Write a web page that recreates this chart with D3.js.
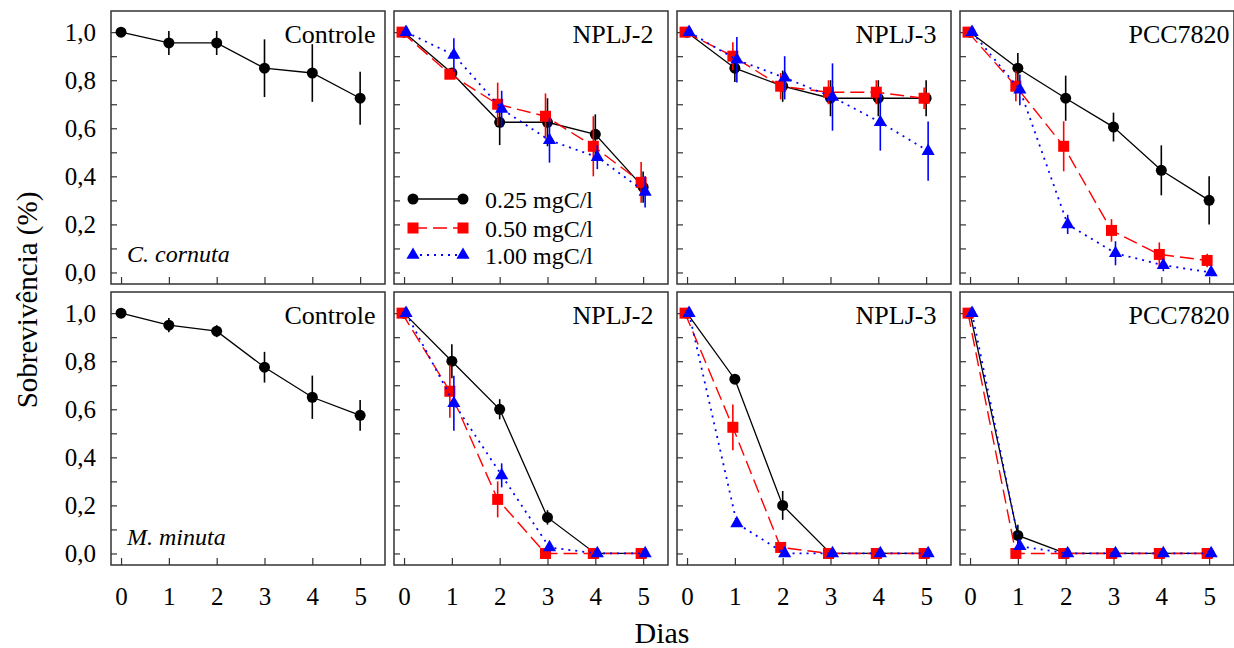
<!DOCTYPE html>
<html>
<head>
<meta charset="utf-8">
<script src="https://cdn.jsdelivr.net/npm/d3@7"></script>
<style>
  body { margin: 0; background: #fff; }
  svg { font-family: "Liberation Serif", "Times New Roman", serif; }
</style>
</head>
<body>
<svg width="1234" height="648"></svg>
<script>
// days and labels
var days = [0, 1, 2, 3, 4, 5];
var concentrations = ["0.25 mgC/l", "0.50 mgC/l", "1.00 mgC/l"];
var strains = ["Controle", "NPLJ-2", "NPLJ-3", "PCC7820"];
var speciesNames = ["C. cornuta", "M. minuta"];
var yTickValues = [0, 0.1, 0.2, 0.3, 0.4, 0.5, 0.6, 0.7, 0.8, 0.9, 1.0];

// C. cornuta
var cornutaControle = [1.0, 0.955, 0.955, 0.85, 0.83, 0.725];
var cornutaControleErr = [0, 0.05, 0.05, 0.12, 0.12, 0.11];
var cornutaNPLJ2_025 = [1.0, 0.83, 0.625, 0.625, 0.575, 0.355];
var cornutaNPLJ2_025Err = [0, 0.02, 0.095, 0.1, 0.083, 0.065];
var cornutaNPLJ2_050 = [1.0, 0.825, 0.70, 0.65, 0.525, 0.375];
var cornutaNPLJ2_050Err = [0, 0.02, 0.09, 0.095, 0.125, 0.085];
var cornutaNPLJ2_100 = [1.0, 0.905, 0.68, 0.55, 0.48, 0.335];
var cornutaNPLJ2_100Err = [0, 0.07, 0.076, 0.093, 0.05, 0.065];
var cornutaNPLJ3_025 = [1.0, 0.85, 0.775, 0.725, 0.725, 0.725];
var cornutaNPLJ3_025Err = [0, 0.057, 0.065, 0.075, 0.075, 0.075];
var cornutaNPLJ3_050 = [1.0, 0.90, 0.775, 0.75, 0.75, 0.725];
var cornutaNPLJ3_050Err = [0, 0.058, 0.055, 0.05, 0.05, 0.045];
var cornutaNPLJ3_100 = [1.0, 0.885, 0.81, 0.73, 0.625, 0.505];
var cornutaNPLJ3_100Err = [0, 0.095, 0.09, 0.14, 0.118, 0.123];
var cornutaPCC_025 = [1.0, 0.85, 0.725, 0.605, 0.425, 0.30];
var cornutaPCC_025Err = [0, 0.063, 0.094, 0.06, 0.104, 0.10];
var cornutaPCC_050 = [1.0, 0.775, 0.525, 0.175, 0.075, 0.05];
var cornutaPCC_050Err = [0, 0.063, 0.104, 0.047, 0.05, 0.028];
var cornutaPCC_100 = [1.0, 0.76, 0.20, 0.08, 0.03, 0.0];
var cornutaPCC_100Err = [0, 0.064, 0.04, 0.05, 0.025, 0];

// M. minuta
var minutaControle = [1.0, 0.95, 0.925, 0.775, 0.65, 0.575];
var minutaControleErr = [0, 0.03, 0.025, 0.064, 0.09, 0.064];
var minutaNPLJ2_025 = [1.0, 0.80, 0.60, 0.15, 0, 0];
var minutaNPLJ2_025Err = [0, 0.071, 0.042, 0.03, 0, 0];
var minutaNPLJ2_050 = [1.0, 0.675, 0.225, 0, 0, 0];
var minutaNPLJ2_050Err = [0, 0.11, 0.075, 0, 0, 0];
var minutaNPLJ2_100 = [1.0, 0.625, 0.325, 0.025, 0, 0];
var minutaNPLJ2_100Err = [0, 0.114, 0.05, 0.015, 0, 0];
var minutaNPLJ3_025 = [1.0, 0.725, 0.20, 0, 0, 0];
var minutaNPLJ3_025Err = [0, 0.01, 0.06, 0, 0, 0];
var minutaNPLJ3_050 = [1.0, 0.525, 0.025, 0, 0, 0];
var minutaNPLJ3_050Err = [0, 0.095, 0.01, 0, 0, 0];
var minutaNPLJ3_100 = [1.0, 0.125, 0, 0, 0, 0];
var minutaNPLJ3_100Err = [0, 0.015, 0, 0, 0, 0];
var minutaPCC_025 = [1.0, 0.075, 0, 0, 0, 0];
var minutaPCC_025Err = [0, 0.045, 0, 0, 0, 0];
var minutaPCC_050 = [1.0, 0, 0, 0, 0, 0];
var minutaPCC_050Err = [0, 0, 0, 0, 0, 0];
var minutaPCC_100 = [1.0, 0.03, 0, 0, 0, 0];
var minutaPCC_100Err = [0, 0.01, 0, 0, 0, 0];

var panels = [
  [[cornutaControle, cornutaControleErr]],
  [[cornutaNPLJ2_025, cornutaNPLJ2_025Err], [cornutaNPLJ2_050, cornutaNPLJ2_050Err], [cornutaNPLJ2_100, cornutaNPLJ2_100Err]],
  [[cornutaNPLJ3_025, cornutaNPLJ3_025Err], [cornutaNPLJ3_050, cornutaNPLJ3_050Err], [cornutaNPLJ3_100, cornutaNPLJ3_100Err]],
  [[cornutaPCC_025, cornutaPCC_025Err], [cornutaPCC_050, cornutaPCC_050Err], [cornutaPCC_100, cornutaPCC_100Err]],
  [[minutaControle, minutaControleErr]],
  [[minutaNPLJ2_025, minutaNPLJ2_025Err], [minutaNPLJ2_050, minutaNPLJ2_050Err], [minutaNPLJ2_100, minutaNPLJ2_100Err]],
  [[minutaNPLJ3_025, minutaNPLJ3_025Err], [minutaNPLJ3_050, minutaNPLJ3_050Err], [minutaNPLJ3_100, minutaNPLJ3_100Err]],
  [[minutaPCC_025, minutaPCC_025Err], [minutaPCC_050, minutaPCC_050Err], [minutaPCC_100, minutaPCC_100Err]]
];

var colors = ["#000000", "#ff0000", "#0000ff"],
    dashes = [null, "14,6", "2,5"],
    widths = [1.3, 1.4, 1.8],
    dodge = [0, -2, 2];

var svg = d3.select("svg"),
    pw = 274, ph = 273,
    left0 = 111, colStep = 283,
    rowTops = [11, 292];

var x = d3.scaleLinear().domain([-0.21, 5.52]).range([0, pw]);
var y = d3.scaleLinear().domain([-0.048, 1.088]).range([ph, 0]);
var fmt = function(d) { return d3.format(".1f")(d).replace(".", ","); };

function marker(sel, k, color) {
  if (k == 0) {
    sel.append("circle").attr("r", 5.5).attr("fill", color);
  } else if (k == 1) {
    sel.append("rect").attr("x", -5.5).attr("y", -5.5).attr("width", 11).attr("height", 11).attr("fill", color);
  } else {
    sel.append("path").attr("d", d3.symbol(d3.symbolTriangle, 75)()).attr("fill", color);
  }
}

panels.forEach(function(series, p) {
  var row = Math.floor(p / 4), col = p % 4;
  var g = svg.append("g").attr("transform", "translate(" + (left0 + col * colStep) + "," + rowTops[row] + ")");

  // axes with inward ticks
  var yAxis = d3.axisLeft(y).tickValues(yTickValues).tickSize(-6).tickPadding(15)
    .tickFormat(function(d, i) { return (col == 0 && i % 2 == 0) ? fmt(d) : ""; });
  var ya = g.append("g").call(yAxis);
  var xAxis = d3.axisBottom(x).tickValues(days).tickSize(-7).tickPadding(22)
    .tickFormat(function(d) { return row == 1 ? d : ""; });
  var xa = g.append("g").attr("transform", "translate(0," + ph + ")").call(xAxis);
  [ya, xa].forEach(function(a) {
    a.select(".domain").remove();
    a.selectAll("line").attr("stroke", "#333").attr("stroke-width", 1.2);
    a.selectAll("text").attr("font-size", 25).attr("fill", "#000").attr("font-family", "Liberation Serif");
  });

  g.append("rect").attr("width", pw).attr("height", ph)
    .attr("fill", "none").attr("stroke", "#333").attr("stroke-width", 1.5);

  series.forEach(function(s, k) {
    var vals = s[0], errs = s[1], dx = dodge[k];
    var pts = days.map(function(d, i) { return {x: x(d) + dx, v: vals[i], e: errs[i]}; });
    var line = d3.line().x(function(d) { return d.x; }).y(function(d) { return y(d.v); });
    g.append("path").datum(pts).attr("d", line)
      .attr("fill", "none").attr("stroke", colors[k]).attr("stroke-width", widths[k])
      .attr("stroke-dasharray", dashes[k]);
    g.selectAll(".err" + k).data(pts.filter(function(d) { return d.e > 0; })).enter().append("line")
      .attr("x1", function(d) { return d.x; }).attr("x2", function(d) { return d.x; })
      .attr("y1", function(d) { return y(d.v - d.e); }).attr("y2", function(d) { return y(d.v + d.e); })
      .attr("stroke", colors[k]).attr("stroke-width", 1.6);
    pts.forEach(function(d) {
      var m = g.append("g").attr("transform", "translate(" + d.x + "," + y(d.v) + ")");
      marker(m, k, colors[k]);
    });
  });

  g.append("text").attr("x", 219).attr("y", 32).attr("text-anchor", "middle")
    .attr("font-size", 26).text(strains[col]);

  if (col == 0) {
    g.append("text").attr("x", 16).attr("y", row == 0 ? 251 : 253)
      .attr("font-size", 24).attr("font-style", "italic").text(speciesNames[row]);
  }

  if (p == 1) {
    concentrations.forEach(function(c, k) {
      var ly = [188, 217, 244][k];
      g.append("line").attr("x1", 19).attr("x2", 69).attr("y1", ly).attr("y2", ly)
        .attr("stroke", colors[k]).attr("stroke-width", widths[k]).attr("stroke-dasharray", dashes[k]);
      [19, 69].forEach(function(lx) {
        marker(g.append("g").attr("transform", "translate(" + lx + "," + ly + ")"), k, colors[k]);
      });
      g.append("text").attr("x", 91).attr("y", ly + 9).attr("font-size", 24).text(c);
    });
  }
});

svg.append("text").attr("x", 662).attr("y", 643).attr("text-anchor", "middle")
  .attr("font-size", 30).text("Dias");
svg.append("text").attr("transform", "translate(37,300) rotate(-90)").attr("text-anchor", "middle")
  .attr("font-size", 29).text("Sobrevivência (%)");
</script>
</body>
</html>
